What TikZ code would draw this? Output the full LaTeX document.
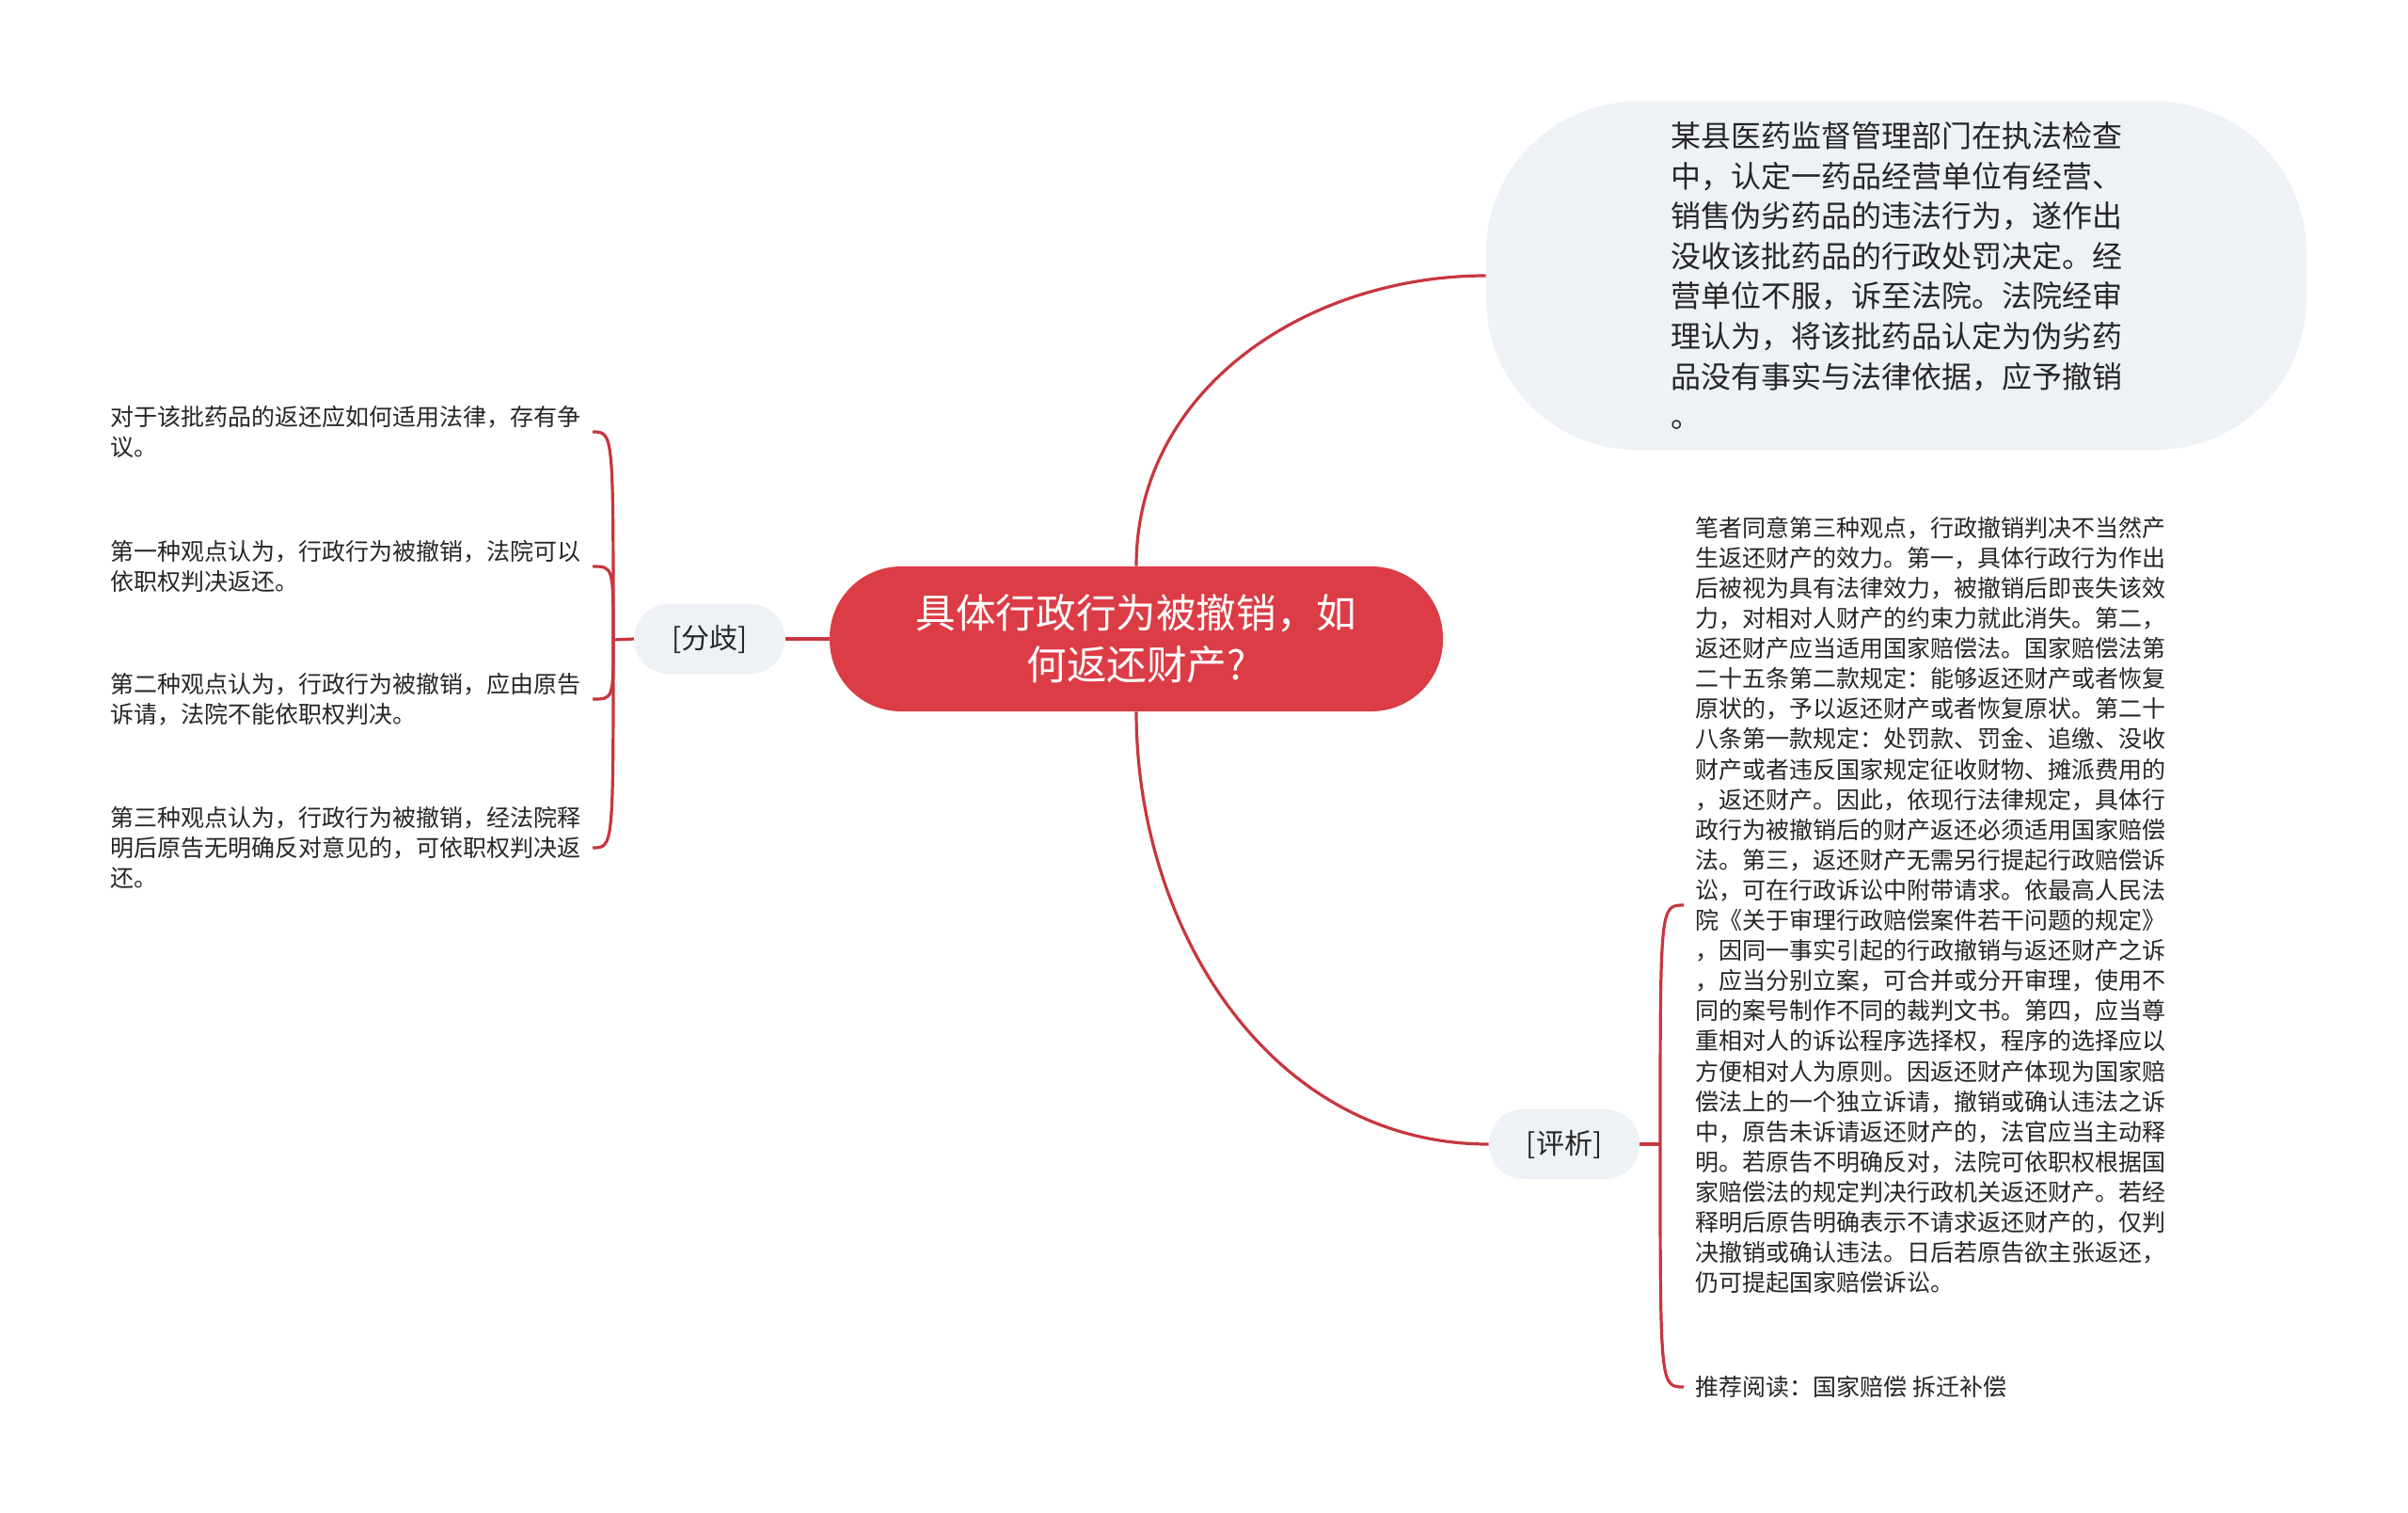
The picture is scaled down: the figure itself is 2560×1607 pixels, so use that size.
\documentclass[tikz,border=0pt]{standalone}
\usepackage{fontspec}
\setmainfont{Noto Sans CJK SC}
\usetikzlibrary{positioning}
\definecolor{topicred}{HTML}{DC3C45}
\definecolor{linkred}{HTML}{C8363E}
\definecolor{boxgray}{HTML}{EEF1F5}
\definecolor{inkgray}{HTML}{262626}

\begin{document}
\begin{tikzpicture}[
	x=0.5pt, y=-0.5pt,
	topic/.style={rectangle, rounded corners=38pt, fill=topicred, text=white, minimum width=326pt, minimum height=77pt, align=center, font={\fontsize{21.3pt}{27.8pt}\selectfont}},
	casebox/.style={rectangle, rounded corners=80pt, fill=boxgray, text=inkgray, minimum width=436pt, minimum height=185pt, align=left, font={\fontsize{16pt}{21.3pt}\selectfont}},
	branch/.style={rectangle, rounded corners=18pt, fill=boxgray, text=inkgray, minimum width=80pt, minimum height=37pt, font={\fontsize{15pt}{18pt}\selectfont}},
	leaf/.style={inner xsep=6pt, inner ysep=2pt, align=left, text=inkgray, font={\fontsize{12.5pt}{16.2pt}\selectfont}},
	link/.style={draw=linkred, line width=1.6pt}
]

\useasboundingbox (0,0) rectangle (2560,1607);

\node[topic] (topic) at (1208,679) {具体行政行为被撤销，如\\何返还财产?};
\node[casebox] (case) at (2016,293) {某县医药监督管理部门在执法检查\\中，认定一药品经营单位有经营、\\销售伪劣药品的违法行为，遂作出\\没收该批药品的行政处罚决定。经\\营单位不服，诉至法院。法院经审\\理认为，将该批药品认定为伪劣药\\品没有事实与法律依据，应予撤销\\。};
\node[branch, left=23.5pt of topic] (fenqi) {[分歧]};
\node[branch] (pingxi) at (1663,1216) {[评析]};

\node[leaf, anchor=east] (view0) at (630,459) {对于该批药品的返还应如何适用法律，存有争\\议。};
\node[leaf, anchor=east] (view1) at (630,602) {第一种观点认为，行政行为被撤销，法院可以\\依职权判决返还。};
\node[leaf, anchor=east] (view2) at (630,743) {第二种观点认为，行政行为被撤销，应由原告\\诉请，法院不能依职权判决。};
\node[leaf, anchor=east] (view3) at (630,901) {第三种观点认为，行政行为被撤销，经法院释\\明后原告无明确反对意见的，可依职权判决返\\还。};

\node[leaf, anchor=west, font={\fontsize{12.5pt}{16.05pt}\selectfont}] (analysis) at (1790,962) {笔者同意第三种观点，行政撤销判决不当然产\\生返还财产的效力。第一，具体行政行为作出\\后被视为具有法律效力，被撤销后即丧失该效\\力，对相对人财产的约束力就此消失。第二，\\返还财产应当适用国家赔偿法。国家赔偿法第\\二十五条第二款规定：能够返还财产或者恢复\\原状的，予以返还财产或者恢复原状。第二十\\八条第一款规定：处罚款、罚金、追缴、没收\\财产或者违反国家规定征收财物、摊派费用的\\，返还财产。因此，依现行法律规定，具体行\\政行为被撤销后的财产返还必须适用国家赔偿\\法。第三，返还财产无需另行提起行政赔偿诉\\讼，可在行政诉讼中附带请求。依最高人民法\\院《关于审理行政赔偿案件若干问题的规定》\\，因同一事实引起的行政撤销与返还财产之诉\\，应当分别立案，可合并或分开审理，使用不\\同的案号制作不同的裁判文书。第四，应当尊\\重相对人的诉讼程序选择权，程序的选择应以\\方便相对人为原则。因返还财产体现为国家赔\\偿法上的一个独立诉请，撤销或确认违法之诉\\中，原告未诉请返还财产的，法官应当主动释\\明。若原告不明确反对，法院可依职权根据国\\家赔偿法的规定判决行政机关返还财产。若经\\释明后原告明确表示不请求返还财产的，仅判\\决撤销或确认违法。日后若原告欲主张返还，\\仍可提起国家赔偿诉讼。};
\node[leaf, anchor=west] (recommend) at (1790,1474) {推荐阅读：国家赔偿 拆迁补偿};

\coordinate (forkL) at (652,680);
\coordinate (forkR) at (1765,1216);

\draw[link] (topic.north) to[out=90, in=180] (case.west);
\draw[link] (topic.south) to[out=-90, in=180] (pingxi.west);
\draw[link] (topic.west) -- (fenqi.east);
\draw[link] (fenqi.west) -- (forkL);
\foreach \v in {view0, view1, view2, view3}
	\draw[link] (forkL) .. controls (forkL |- \v.east) .. (\v.east);
\draw[link] (pingxi.east) -- (forkR);
\foreach \v in {analysis, recommend}
	\draw[link] (forkR) .. controls (forkR |- \v.west) .. (\v.west);

\end{tikzpicture}
\end{document}
